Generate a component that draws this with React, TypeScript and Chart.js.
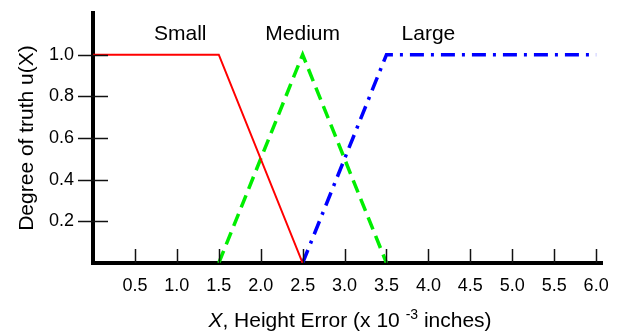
import React, { useEffect, useRef } from "react";
import { Chart, registerables } from "chart.js";

Chart.register(...registerables);

const smallX = [0, 1.5, 2.5];
const smallY = [1, 1, 0];
const mediumX = [1.5, 2.5, 3.5];
const mediumY = [0, 1, 0];
const largeX = [2.5, 3.5, 6.0];
const largeY = [0, 1, 1];

const xTickValues = [0.5, 1.0, 1.5, 2.0, 2.5, 3.0, 3.5, 4.0, 4.5, 5.0, 5.5, 6.0];
const yTickValues = [0.2, 0.4, 0.6, 0.8, 1.0];

const setNames = ["Small", "Medium", "Large"];
const setLabelX = [1.04, 2.5, 4.0];
const setLabelY = [1.1, 1.1, 1.1];

const FONT = "'Liberation Sans', Arial, sans-serif";

const toPoints = (xs: number[], ys: number[]) => xs.map((x, i) => ({ x, y: ys[i] }));

const decorPlugin = {
  id: "decor",
  afterDraw(chart: any) {
    const { ctx, chartArea, scales } = chart;
    const xs = scales.x;
    const ys = scales.y;
    ctx.save();
    // tick marks
    ctx.strokeStyle = "#111";
    ctx.lineWidth = 1.5;
    xTickValues.forEach((v) => {
      const px = Math.round(xs.getPixelForValue(v)) + 0.5;
      ctx.beginPath();
      ctx.moveTo(px, chartArea.bottom);
      ctx.lineTo(px, chartArea.bottom - 14);
      ctx.stroke();
    });
    yTickValues.forEach((v) => {
      const py = Math.round(ys.getPixelForValue(v)) + 0.5;
      ctx.beginPath();
      ctx.moveTo(chartArea.left - 15, py);
      ctx.lineTo(chartArea.left + 15, py);
      ctx.stroke();
    });
    // set names
    ctx.fillStyle = "#000";
    ctx.font = `21px ${FONT}`;
    ctx.textAlign = "center";
    ctx.textBaseline = "middle";
    setNames.forEach((t, i) => {
      ctx.fillText(t, xs.getPixelForValue(setLabelX[i]), ys.getPixelForValue(setLabelY[i]));
    });
    // x axis title
    const parts = [
      { t: "X", f: `italic 21px ${FONT}`, dy: 0 },
      { t: ", Height Error (x 10 ", f: `21px ${FONT}`, dy: 0 },
      { t: "-3", f: `14px ${FONT}`, dy: -8 },
      { t: " inches)", f: `21px ${FONT}`, dy: 0 },
    ];
    let total = 0;
    parts.forEach((p) => {
      ctx.font = p.f;
      total += ctx.measureText(p.t).width;
    });
    let x0 = 350 - total / 2;
    const base = 327;
    ctx.textAlign = "left";
    ctx.textBaseline = "alphabetic";
    parts.forEach((p) => {
      ctx.font = p.f;
      ctx.fillText(p.t, x0, base + p.dy);
      x0 += ctx.measureText(p.t).width;
    });
    // y axis title
    ctx.save();
    ctx.translate(33, (chartArea.top + chartArea.bottom) / 2);
    ctx.rotate(-Math.PI / 2);
    ctx.font = `21px ${FONT}`;
    ctx.textAlign = "center";
    ctx.textBaseline = "alphabetic";
    ctx.fillText("Degree of truth u(X)", 0, 0);
    ctx.restore();
    ctx.restore();
  },
};

export default function App() {
  const ref = useRef<HTMLCanvasElement>(null);
  useEffect(() => {
    if (!ref.current) return;
    const chart = new Chart(ref.current, {
      type: "scatter",
      data: {
        datasets: [
          {
            label: "Small",
            data: toPoints(smallX, smallY),
            showLine: true,
            borderColor: "#ff0000",
            borderWidth: 2,
            pointRadius: 0,
            fill: false,
          },
          {
            label: "Medium",
            data: toPoints(mediumX, mediumY),
            showLine: true,
            borderColor: "#00ee00",
            borderWidth: 3.5,
            borderDash: [13, 7],
            pointRadius: 0,
            fill: false,
          },
          {
            label: "Large",
            data: toPoints(largeX, largeY),
            showLine: true,
            borderColor: "#0000ff",
            borderWidth: 3.5,
            borderDash: [14, 7, 3, 7],
            pointRadius: 0,
            fill: false,
          },
        ],
      },
      options: {
        responsive: false,
        animation: false,
        events: [],
        layout: { padding: { top: 13, right: 24, left: 0, bottom: 0 } },
        plugins: { legend: { display: false }, tooltip: { enabled: false } },
        scales: {
          x: {
            type: "linear",
            min: 0,
            max: 6.07,
            grid: { display: false, drawTicks: false },
            border: { display: true, color: "#000", width: 4 },
            afterBuildTicks: (s: any) => {
              s.ticks = xTickValues.map((v) => ({ value: v }));
            },
            afterFit: (s: any) => {
              s.height = 69;
              s.paddingLeft = 0;
              s.paddingRight = 0;
            },
            ticks: {
              color: "#000",
              padding: 12,
              font: { family: FONT, size: 18 },
              autoSkip: false,
              maxRotation: 0,
              callback: (v: any) => Number(v).toFixed(1),
            },
          },
          y: {
            type: "linear",
            min: 0,
            max: 1.2,
            grid: { display: false, drawTicks: false },
            border: { display: true, color: "#000", width: 4 },
            afterBuildTicks: (s: any) => {
              s.ticks = yTickValues.map((v) => ({ value: v }));
            },
            afterFit: (s: any) => {
              s.width = 93;
              s.paddingTop = 0;
              s.paddingBottom = 0;
            },
            ticks: {
              color: "#000",
              padding: 19,
              font: { family: FONT, size: 18 },
              autoSkip: false,
              callback: (v: any) => Number(v).toFixed(1),
            },
          },
        },
      },
      plugins: [decorPlugin],
    });
    return () => chart.destroy();
  }, []);
  return (
    <div style={{ position: "fixed", left: 0, top: 0, width: 626, height: 332, background: "#fff" }}>
      <canvas ref={ref} width={626} height={332} style={{ width: 626, height: 332, display: "block" }} />
    </div>
  );
}
